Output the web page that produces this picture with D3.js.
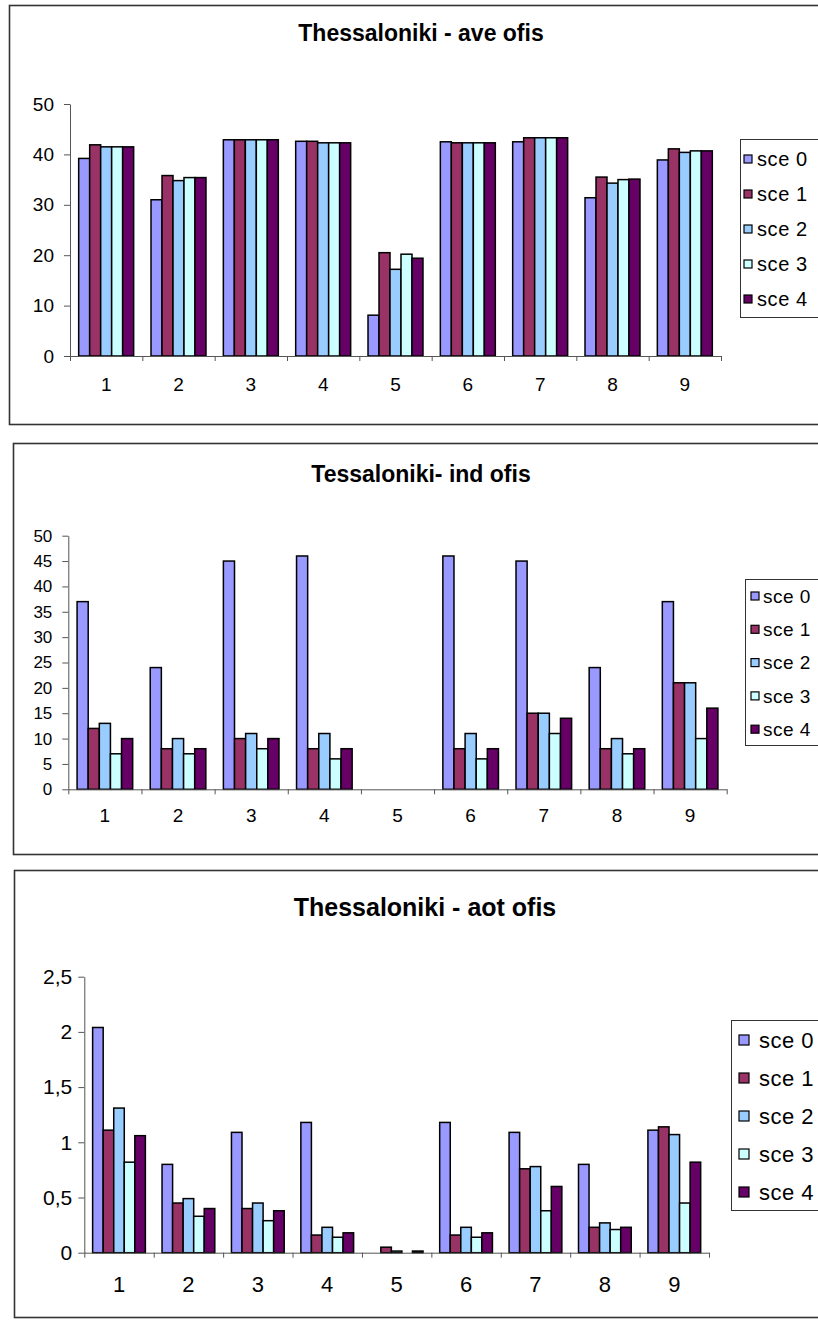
<!DOCTYPE html>
<html>
<head>
<meta charset="utf-8">
<script src="https://cdn.jsdelivr.net/npm/d3@7"></script>
<style>
  body { margin: 0; background: #fff; }
  svg { display: block; }
  text { font-family: "Liberation Sans", Arial, sans-serif; fill: #000; }
</style>
</head>
<body>
<svg id="chart" width="818" height="1320"></svg>
<script>
// Zones 1..9 along the horizontal axis
const categories = ["1", "2", "3", "4", "5", "6", "7", "8", "9"];
const scenarios = ["sce 0", "sce 1", "sce 2", "sce 3", "sce 4"];
const scenarioColors = ["#9999FF", "#993366", "#99CCFF", "#CCFFFF", "#660066"];

// Thessaloniki - ave ofis (one row per scenario)
const aveOfis = [
  [39.2, 31.0, 42.9, 42.6,  8.1, 42.5, 42.5, 31.4, 38.9],
  [41.9, 35.8, 42.9, 42.6, 20.5, 42.3, 43.3, 35.5, 41.1],
  [41.5, 34.8, 42.9, 42.3, 17.2, 42.3, 43.3, 34.3, 40.4],
  [41.5, 35.4, 42.9, 42.3, 20.2, 42.3, 43.3, 35.0, 40.7],
  [41.5, 35.4, 42.9, 42.3, 19.4, 42.3, 43.3, 35.1, 40.7]
];
// Tessaloniki - ind ofis
const indOfis = [
  [37, 24, 45, 46, 0, 46, 45, 24, 37],
  [12,  8, 10,  8, 0,  8, 15,  8, 21],
  [13, 10, 11, 11, 0, 11, 15, 10, 21],
  [ 7,  7,  8,  6, 0,  6, 11,  7, 10],
  [10,  8, 10,  8, 0,  8, 14,  8, 16]
];
// Thessaloniki - aot ofis
const aotOfis = [
  [2.04, 0.80, 1.09, 1.18, 0,     1.18, 1.09, 0.80, 1.11],
  [1.11, 0.45, 0.40, 0.16, 0.05,  0.16, 0.76, 0.23, 1.14],
  [1.31, 0.49, 0.45, 0.23, 0.015, 0.23, 0.78, 0.27, 1.07],
  [0.82, 0.33, 0.29, 0.14, 0,     0.14, 0.38, 0.21, 0.45],
  [1.06, 0.40, 0.38, 0.18, 0.015, 0.18, 0.60, 0.23, 0.82]
];

const aveTicks = [0, 10, 20, 30, 40, 50];
const indTicks = [0, 5, 10, 15, 20, 25, 30, 35, 40, 45, 50];
const aotTicks = [0, 0.5, 1, 1.5, 2, 2.5];

const commaDecimal = d => String(d).replace(".", ",");

const panels = [
  {
    title: "Thessaloniki - ave ofis", values: aveOfis, ticks: aveTicks, fmt: commaDecimal,
    frame: { x: 9.5, y: 5.5, b: 424.5 },
    plot: { l: 70, r: 721, t: 104, b: 356 },
    titleY: 33, titleX: 421, titleSize: 23,
    yFont: 19, yPad: 10, xFont: 19, xPad: 22,
    legend: { x: 740.5, t: 139.5, b: 317.5, row0: 159, step: 35, sw: 8, swX: 744, txtX: 757, font: 20, ls: 0.6 }
  },
  {
    title: "Tessaloniki- ind ofis", values: indOfis, ticks: indTicks, fmt: commaDecimal,
    frame: { x: 13.5, y: 443.5, b: 854.5 },
    plot: { l: 68.3, r: 726.7, t: 535.7, b: 789.3 },
    titleY: 474, titleX: 421, titleSize: 23,
    yFont: 17, yPad: 10, xFont: 19, xPad: 19,
    legend: { x: 745.5, t: 579.5, b: 745.5, row0: 596, step: 33.3, sw: 8, swX: 751, txtX: 763, font: 19, ls: 0.5 }
  },
  {
    title: "Thessaloniki - aot ofis", values: aotOfis, ticks: aotTicks, fmt: commaDecimal,
    frame: { x: 14.5, y: 870.5, b: 1317.5 },
    plot: { l: 84.3, r: 709, t: 976.7, b: 1252.7 },
    titleY: 907, titleX: 425, titleSize: 25,
    yFont: 21, yPad: 6, xFont: 22, xPad: 24,
    legend: { x: 731.5, t: 1020.5, b: 1210.5, row0: 1040, step: 38, sw: 10, swX: 739, txtX: 759, font: 22, ls: 0.5 }
  }
];

const svg = d3.select("#chart");

function drawPanel(p) {
  const g = svg.append("g");
  const { l, r, t, b } = p.plot;

  // Chart frame (runs off the right edge)
  g.append("rect")
    .attr("x", p.frame.x).attr("y", p.frame.y)
    .attr("width", 840 - p.frame.x).attr("height", p.frame.b - p.frame.y)
    .attr("fill", "#fff").attr("stroke", "#333").attr("stroke-width", 1.6);

  // Title
  g.append("text")
    .attr("x", p.titleX).attr("y", p.titleY).attr("dy", "0.35em")
    .attr("text-anchor", "middle")
    .attr("font-weight", "bold").attr("font-size", p.titleSize)
    .text(p.title);

  const y = d3.scaleLinear().domain([0, p.ticks[p.ticks.length - 1]]).range([b, t]);
  const x0 = d3.scaleBand().domain(categories).range([l, r]).paddingInner(0.24).paddingOuter(0.12);
  const x1 = d3.scaleBand().domain(scenarios).range([0, x0.bandwidth()]);
  const edges = d3.scaleLinear().domain([0, categories.length]).range([l, r]);

  // Bars, one series at a time
  scenarios.forEach((s, si) => {
    const rows = categories.map((c, ci) => ({ c, v: p.values[si][ci] })).filter(d => d.v > 0);
    g.append("g").selectAll("rect").data(rows).join("rect")
      .attr("x", d => x0(d.c) + x1(s))
      .attr("y", d => y(d.v))
      .attr("width", x1.bandwidth())
      .attr("height", d => y(0) - y(d.v))
      .attr("fill", scenarioColors[si])
      .attr("stroke", "#000").attr("stroke-width", 1.5);
  });

  // Value axis
  const ya = g.append("g").attr("transform", `translate(${l},0)`)
    .call(d3.axisLeft(y).tickValues(p.ticks).tickFormat(p.fmt).tickSize(6).tickSizeOuter(0).tickPadding(p.yPad));
  ya.selectAll("text").attr("font-size", p.yFont).attr("font-family", null);
  ya.selectAll("line,path").attr("stroke", "#555");

  // Category axis: tick marks between groups
  const xa = g.append("g").attr("transform", `translate(0,${b})`)
    .call(d3.axisBottom(edges).tickValues(d3.range(categories.length + 1)).tickFormat("").tickSize(5).tickSizeOuter(0));
  xa.selectAll("line,path").attr("stroke", "#555");

  // Category labels centred under each group
  const xl = g.append("g").attr("transform", `translate(0,${b})`)
    .call(d3.axisBottom(x0).tickSize(0).tickPadding(p.xPad));
  xl.select(".domain").remove();
  xl.selectAll("text").attr("font-size", p.xFont).attr("font-family", null);

  // Legend
  const L = p.legend;
  g.append("rect")
    .attr("x", L.x).attr("y", L.t).attr("width", 840 - L.x).attr("height", L.b - L.t)
    .attr("fill", "#fff").attr("stroke", "#333").attr("stroke-width", 1);
  const items = g.append("g").selectAll("g").data(scenarios).join("g")
    .attr("transform", (d, i) => `translate(0,${L.row0 + i * L.step})`);
  items.append("rect")
    .attr("x", L.swX).attr("y", -L.sw / 2).attr("width", L.sw).attr("height", L.sw)
    .attr("fill", (d, i) => scenarioColors[i]).attr("stroke", "#000").attr("stroke-width", 1.2);
  items.append("text")
    .attr("x", L.txtX).attr("dy", "0.35em").attr("font-size", L.font)
    .attr("letter-spacing", L.ls)
    .text(d => d);
}

panels.forEach(drawPanel);
</script>
</body>
</html>
